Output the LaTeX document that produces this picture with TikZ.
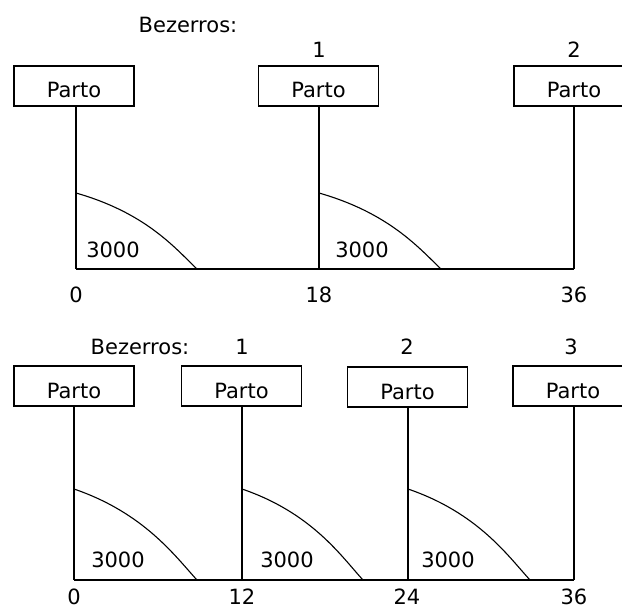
\documentclass[tikz,border=0pt]{standalone}
\usepackage{fontspec}
\setmainfont{DejaVu Sans}
\begin{document}
\begin{tikzpicture}[x=1pt,y=-1pt,
  font=\fontsize{21}{25}\selectfont,
  box/.style={draw, line width=1.1pt, minimum width=120pt, minimum height=40pt, inner sep=0pt, text height=24pt, text depth=0pt},
  lbl/.style={anchor=base, inner sep=0pt},
  ln/.style={line width=1.1pt},
  cv/.style={line width=1.1pt}]
\useasboundingbox (0,0) rectangle (622,610);
\clip (0,0) rectangle (622,610);
% ---------- top diagram ----------
\node[lbl] (bzA) at (188,33) {Bezerros:};
\node[lbl] (nA1) at (319,58) {1};
\node[lbl] (nA2) at (574,58) {2};
\node[box] (pA0) at (74,86) {Parto};
\node[box] (pA1) at (318.5,86) {Parto};
\node[box] (pA2) at (574,86) {Parto};
\coordinate (aA0) at (76,269);
\coordinate (aA1) at (319,269);
\coordinate (aA2) at (574,269);
\draw[ln] (pA0.south -| aA0) -- (aA0);
\draw[ln] (pA1.south -| aA1) -- (aA1);
\draw[ln] (pA2.south -| aA2) -- (aA2);
\draw[ln] (aA0) -- (aA2);
\coordinate (sA0) at (76,193);  \coordinate (eA0) at (197,269);
\coordinate (sA1) at (319,193); \coordinate (eA1) at (441,269);
\draw[cv] (sA0) .. controls +(70,20) and +(-22,-21) .. (eA0);
\draw[cv] (sA1) .. controls +(70,20) and +(-22,-21) .. (eA1);
\node[lbl] (kA0) at (113,257) {3000};
\node[lbl] (kA1) at (362,257) {3000};
\node[lbl] (tA0) at (76,302) {0};
\node[lbl] (tA1) at (319,302) {18};
\node[lbl] (tA2) at (574,302) {36};
% ---------- bottom diagram ----------
\node[lbl] (bzB) at (140,354) {Bezerros:};
\node[lbl] (nB1) at (242,354) {1};
\node[lbl] (nB2) at (407,354) {2};
\node[lbl] (nB3) at (571,354) {3};
\node[box] (pB0) at (74,386) {Parto};
\node[box] (pB1) at (241.5,386) {Parto};
\node[box] (pB2) at (407.5,387) {Parto};
\node[box] (pB3) at (573,386) {Parto};
\coordinate (aB0) at (74,580);
\coordinate (aB1) at (242,580);
\coordinate (aB2) at (408,580);
\coordinate (aB3) at (574,580);
\draw[ln] (pB0.south -| aB0) -- (aB0);
\draw[ln] (pB1.south -| aB1) -- (aB1);
\draw[ln] (pB2.south -| aB2) -- (aB2);
\draw[ln] (pB3.south -| aB3) -- (aB3);
\draw[ln] (aB0) -- (aB3);
\coordinate (sB0) at (74,489);  \coordinate (eB0) at (197,580);
\coordinate (sB1) at (242,489); \coordinate (eB1) at (363,580);
\coordinate (sB2) at (408,489); \coordinate (eB2) at (530,580);
\draw[cv] (sB0) .. controls +(70,24) and +(-22,-24) .. (eB0);
\draw[cv] (sB1) .. controls +(70,24) and +(-22,-24) .. (eB1);
\draw[cv] (sB2) .. controls +(70,24) and +(-22,-24) .. (eB2);
\node[lbl] (kB0) at (118,567) {3000};
\node[lbl] (kB1) at (287,567) {3000};
\node[lbl] (kB2) at (448,567) {3000};
\node[lbl] (tB0) at (74,604) {0};
\node[lbl] (tB1) at (242,604) {12};
\node[lbl] (tB2) at (407,604) {24};
\node[lbl] (tB3) at (574,604) {36};
\end{tikzpicture}
\end{document}
